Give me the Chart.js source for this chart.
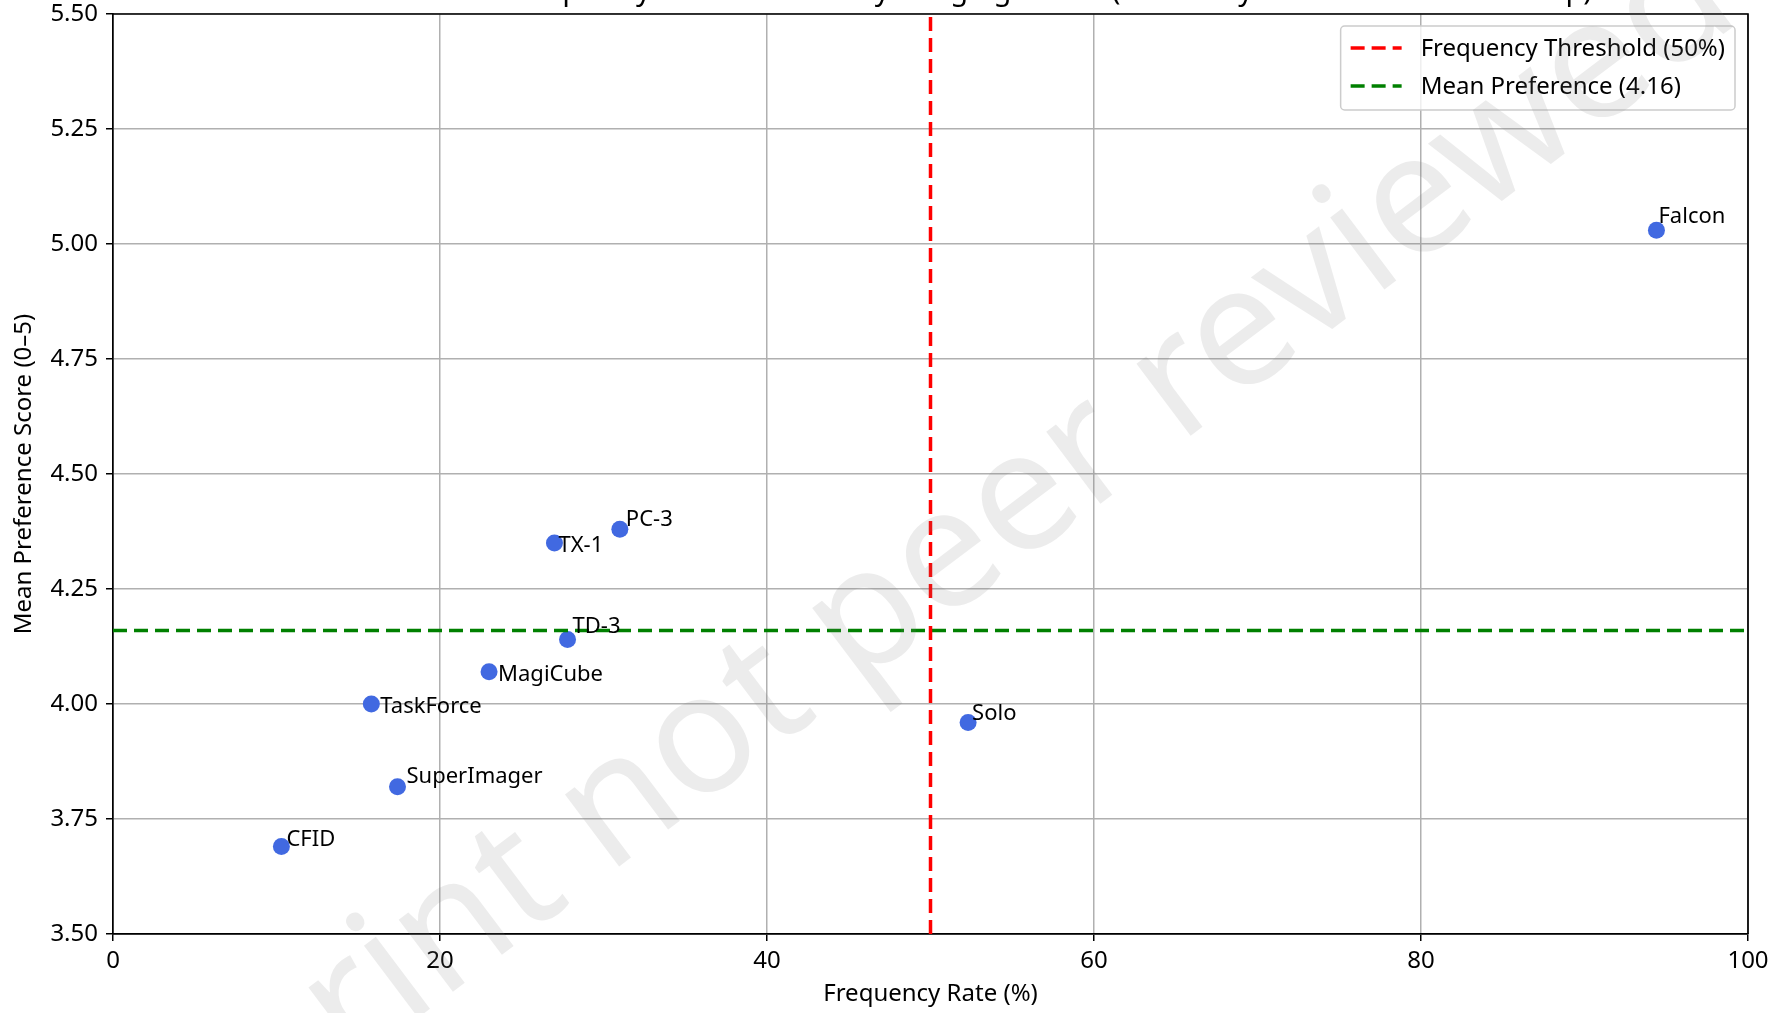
<!DOCTYPE html>
<html>
<head>
<meta charset="utf-8">
<script src="https://cdn.jsdelivr.net/npm/chart.js@4.4.1/dist/chart.umd.min.js"></script>
<style>
  html, body { margin: 0; padding: 0; background: #fff; }
  #wrap { width: 1789px; height: 1013px; position: relative; }
</style>
</head>
<body>
<div id="wrap"><canvas id="chart" width="1789" height="1013"></canvas></div>
<script>
// Frequency vs mean preference scatter, with 50% threshold + mean line
const methods = ['Falcon', 'PC-3', 'TX-1', 'TD-3', 'MagiCube', 'TaskForce', 'SuperImager', 'CFID', 'Solo'];
const frequencyRate = [94.4, 31.0, 27.0, 27.8, 23.0, 15.8, 17.4, 10.3, 52.3];
const meanPreference = [5.03, 4.38, 4.35, 4.14, 4.07, 4.00, 3.82, 3.69, 3.96];
const frequencyThreshold = 50;
const xTicks = [0, 20, 40, 60, 80, 100];
const yTicks = [3.5, 3.75, 4.0, 4.25, 4.5, 4.75, 5.0, 5.25, 5.5];
// label nudges in px (dx, dy from point centre to text baseline start)
const labelNudge = [[2, -7], [6, -3], [4, 9], [5, -7], [9, 9], [9, 9], [9, -4], [5, -1], [4, -2]];

const TITLE = 'Frequency vs. Preference by Imaging Model (Scored by the Clinical Rater Group)';
const WATERMARK = 'Preprint not peer reviewed';
const FONT = "'Noto Sans', 'DejaVu Sans', sans-serif";

const meanPref = meanPreference.reduce((a, b) => a + b, 0) / meanPreference.length;

Chart.defaults.font.family = FONT;
Chart.defaults.color = '#000';

function noPad(s) { s.paddingTop = 0; s.paddingBottom = 0; s.paddingLeft = 0; s.paddingRight = 0; }

const pointLabels = {
  id: 'pointLabels',
  afterDatasetsDraw(chart) {
    const ctx = chart.ctx;
    const meta = chart.getDatasetMeta(0);
    ctx.save();
    ctx.font = '22px ' + FONT;
    ctx.fillStyle = '#000';
    ctx.textAlign = 'left';
    ctx.textBaseline = 'alphabetic';
    meta.data.forEach((pt, i) => {
      ctx.fillText(methods[i], pt.x + labelNudge[i][0], pt.y + labelNudge[i][1]);
    });
    // top + right spines
    const a = chart.chartArea;
    ctx.strokeStyle = '#000';
    ctx.lineWidth = 1.7;
    ctx.beginPath();
    ctx.moveTo(a.left, a.top); ctx.lineTo(a.right, a.top); ctx.lineTo(a.right, a.bottom);
    ctx.stroke();
    ctx.restore();
  }
};

const boxLegend = {
  id: 'boxLegend',
  afterDraw(chart) {
    const ctx = chart.ctx;
    const a = chart.chartArea;
    const items = chart.data.datasets.slice(1);
    ctx.save();
    ctx.font = '24px ' + FONT;
    let tw = 0;
    items.forEach(d => { tw = Math.max(tw, ctx.measureText(d.label).width); });
    const w = 10 + 51 + 19 + tw + 10;
    const h = 84;
    const x0 = a.right - 13 - w, y0 = a.top + 12;
    ctx.fillStyle = 'rgba(255,255,255,0.8)';
    ctx.strokeStyle = '#cccccc';
    ctx.lineWidth = 1.5;
    ctx.beginPath();
    ctx.roundRect(x0, y0, w, h, 4);
    ctx.fill(); ctx.stroke();
    items.forEach((d, i) => {
      const yy = y0 + 22 + i * 38;
      ctx.strokeStyle = d.borderColor;
      ctx.lineWidth = d.borderWidth;
      ctx.setLineDash(d.borderDash);
      ctx.beginPath();
      ctx.moveTo(x0 + 10, yy); ctx.lineTo(x0 + 61, yy);
      ctx.stroke();
      ctx.setLineDash([]);
      ctx.fillStyle = '#000';
      ctx.textBaseline = 'middle';
      ctx.fillText(d.label, x0 + 80, yy + 1);
    });
    // clipped title at the very top
    ctx.font = '29px ' + FONT;
    ctx.textAlign = 'right';
    ctx.textBaseline = 'alphabetic';
    ctx.fillStyle = '#000';
    ctx.fillText(TITLE, 1592, 0);
    // watermark
    ctx.translate(873, 615);
    ctx.rotate(-37 * Math.PI / 180);
    ctx.font = '168px ' + FONT;
    ctx.textAlign = 'center';
    ctx.textBaseline = 'middle';
    ctx.fillStyle = 'rgba(128,128,128,0.15)';
    ctx.fillText(WATERMARK, 0, 0);
    ctx.restore();
  }
};

const axisFont = { size: 24, family: FONT };

new Chart(document.getElementById('chart'), {
  type: 'scatter',
  data: {
    datasets: [
      {
        label: 'Methods',
        data: methods.map((m, i) => ({ x: frequencyRate[i], y: meanPreference[i] })),
        backgroundColor: '#4169e1',
        borderWidth: 0,
        pointRadius: 8.5,
        order: 2
      },
      {
        label: 'Frequency Threshold (' + frequencyThreshold + '%)',
        type: 'line',
        data: [{ x: frequencyThreshold, y: yTicks[0] }, { x: frequencyThreshold, y: yTicks[yTicks.length - 1] }],
        borderColor: '#ff0000',
        borderWidth: 3.5,
        borderDash: [14, 7],
        pointRadius: 0,
        order: 1
      },
      {
        label: 'Mean Preference (' + meanPref.toFixed(2) + ')',
        type: 'line',
        data: [{ x: xTicks[0], y: meanPref }, { x: xTicks[xTicks.length - 1], y: meanPref }],
        borderColor: '#008000',
        borderWidth: 3.5,
        borderDash: [14, 7],
        pointRadius: 0,
        order: 1
      }
    ]
  },
  options: {
    responsive: false,
    animation: false,
    devicePixelRatio: 1,
    layout: { padding: { left: 0, right: 41, top: 14, bottom: 0 } },
    plugins: { legend: { display: false }, tooltip: { enabled: false } },
    scales: {
      x: {
        type: 'linear', min: 0, max: 100,
        afterBuildTicks: s => { s.ticks = xTicks.map(v => ({ value: v })); },
        afterFit: s => { s.height = 79; noPad(s); },
        grid: { color: '#b0b0b0', lineWidth: 1.5, tickColor: '#000', tickLength: 7, tickWidth: 1.5 },
        border: { color: '#000', width: 1.7 },
        ticks: { font: axisFont, padding: 6, maxRotation: 0, callback: v => String(v) },
        title: { display: true, text: 'Frequency Rate (%)', font: axisFont, padding: { top: 0, bottom: 4 } }
      },
      y: {
        type: 'linear', min: 3.5, max: 5.5,
        afterBuildTicks: s => { s.ticks = yTicks.map(v => ({ value: v })); },
        afterFit: s => { s.width = 113; noPad(s); },
        grid: { color: '#b0b0b0', lineWidth: 1.5, tickColor: '#000', tickLength: 7, tickWidth: 1.5 },
        border: { color: '#000', width: 1.7 },
        ticks: { font: axisFont, padding: 8, callback: v => v.toFixed(2) },
        title: { display: true, text: 'Mean Preference Score (0–5)', font: axisFont, padding: { top: 10, bottom: 0 } }
      }
    }
  },
  plugins: [pointLabels, boxLegend]
});
</script>
</body>
</html>
